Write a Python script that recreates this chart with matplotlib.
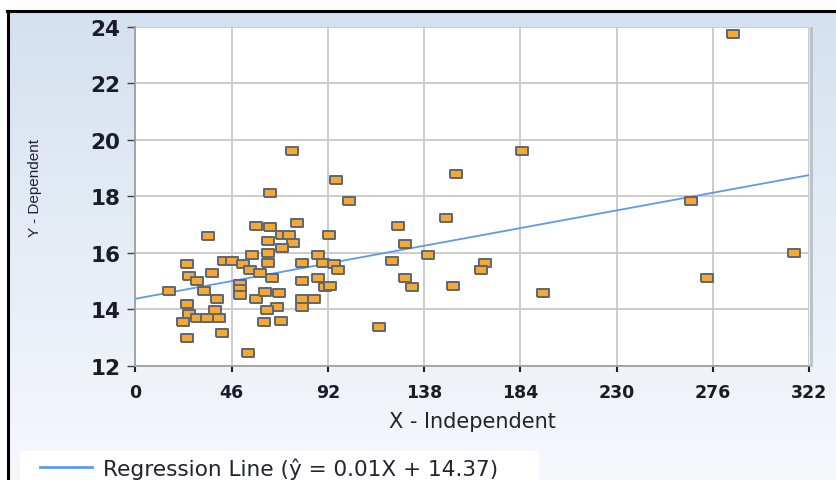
import numpy as np
import matplotlib.pyplot as plt
from matplotlib.colors import LinearSegmentedColormap
from matplotlib.patches import Rectangle
from matplotlib.lines import Line2D

# scatter points
x_vals = [16.2, 22.6, 24.8, 25.8, 29.3, 32.6, 34.5, 36.6, 42.3, 46.0,
          24.8, 25.8, 29.3, 34.1, 38.0, 40.1, 41.2, 24.8, 39.0, 51.3,
          55.6, 54.8, 59.3, 50.0, 50.0, 50.0, 57.4, 53.8, 61.5, 57.5,
          75.0, 96.0, 102.2, 64.3, 77.4, 64.3, 69.9, 73.5, 75.2, 63.5,
          92.5, 69.9, 63.5, 63.5, 79.5, 87.1, 89.5, 95.0, 96.9, 65.4,
          79.5, 87.1, 90.6, 93.0, 61.9, 68.6, 79.5, 85.3, 79.5, 67.5,
          63.0, 69.6, 116.3, 184.6, 153.0, 148.4, 125.6, 128.8, 139.7, 122.5,
          128.8, 132.0, 151.9, 167.0, 165.0, 194.6, 285.4, 265.6, 273.2, 314.8]
y_vals = [14.65, 13.54, 15.60, 15.18, 14.99, 14.65, 16.58, 15.27, 15.71, 15.71,
          14.18, 13.82, 13.69, 13.69, 13.97, 13.69, 13.16, 12.98, 14.35, 15.61,
          15.92, 15.37, 15.27, 14.89, 14.71, 14.51, 14.35, 12.45, 13.54, 16.96,
          19.61, 18.58, 17.82, 18.10, 17.06, 16.90, 16.63, 16.63, 16.35, 16.41,
          16.62, 16.16, 15.98, 15.65, 15.65, 15.92, 15.65, 15.60, 15.38, 15.12,
          15.00, 15.12, 14.79, 14.83, 14.61, 14.56, 14.35, 14.35, 14.08, 14.08,
          13.97, 13.59, 13.37, 19.61, 18.80, 17.23, 16.96, 16.30, 15.92, 15.71,
          15.10, 14.77, 14.83, 15.65, 15.38, 14.56, 23.74, 17.83, 15.10, 15.98]

x_ticks = [0, 46, 92, 138, 184, 230, 276, 322]
y_ticks = [12, 14, 16, 18, 20, 22, 24]

reg_intercept = 14.37
reg_slope = 0.0136
legend_label = 'Regression Line (ŷ = 0.01X + 14.37)'

W, H = 836, 481
fig = plt.figure(figsize=(W / 100, H / 100), dpi=100)
fig.patch.set_facecolor('white')

# light blue gradient panel behind the chart
bg = fig.add_axes([8 / W, 0, 1 - 8 / W, 1 - 13 / H], zorder=-10)
grad = np.linspace(0, 1, 256).reshape(-1, 1)
cmap = LinearSegmentedColormap.from_list('bg', ['#d5e1f0', '#f6f8fc'])
bg.imshow(grad, aspect='auto', cmap=cmap, extent=[0, 1, 0, 1], origin='upper')
bg.axis('off')

# black frame on left and top
fig.add_artist(Line2D([7.5 / W, 7.5 / W], [0, 1 - 12 / H], transform=fig.transFigure,
                      color='black', lw=2.2))
fig.add_artist(Line2D([6.5 / W, 1], [1 - 12 / H, 1 - 12 / H], transform=fig.transFigure,
                      color='black', lw=2.2))

# faint shadow right of the plot area
fig.add_artist(Line2D([811 / W, 811 / W], [1 - 366 / H, 1 - 29 / H], transform=fig.transFigure,
                      color='#b8c0cc', lw=2, zorder=-5))

ax = fig.add_axes([135.4 / W, 1 - 366.7 / H, (809.3 - 135.4) / W, (366.7 - 27.7) / H])
ax.set_facecolor('white')

# regression line
xs = np.array([x_ticks[0], x_ticks[-1]])
line, = ax.plot(xs, reg_intercept + reg_slope * xs, color='#5b9bef', lw=1.3, zorder=3)

# rectangular markers
rect = [(-1, -0.63), (1, -0.63), (1, 0.63), (-1, 0.63), (-1, -0.63)]
ax.plot(x_vals, y_vals, linestyle='none', marker=rect, ms=8.8, mfc='#f7a831',
        mec='#5b6677', mew=1.4, zorder=4)

ax.set_xlim(x_ticks[0], x_ticks[-1])
ax.set_ylim(y_ticks[0], y_ticks[-1])
ax.set_xticks(x_ticks)
ax.set_yticks(y_ticks)
ax.grid(True, color='#c8c8c8', lw=1.3, zorder=0)
ax.set_axisbelow(True)

for s in ['top', 'right']:
    ax.spines[s].set_visible(False)
for s in ['left', 'bottom']:
    ax.spines[s].set_color('#a0a0a0')
    ax.spines[s].set_linewidth(1.3)

ax.tick_params(axis='y', direction='out', length=5.8, width=1, color='#404040', pad=5,
               labelsize=15.5, labelcolor='#1c1c28')
ax.tick_params(axis='x', direction='out', length=4.5, width=1.5, color='#202020', pad=8,
               labelsize=12.5, labelcolor='#1c1c28')
for lab in ax.get_xticklabels() + ax.get_yticklabels():
    lab.set_fontweight('bold')

# axis titles
fig.text(472 / W, 1 - 422 / H, 'X - Independent', ha='center', va='center',
         fontsize=15, color='#222233', family='DejaVu Sans')
fig.text(35 / W, 1 - 188 / H, 'Y - Dependent', ha='center', va='center', rotation=90,
         fontsize=11, color='#222233', family=['Liberation Sans Narrow', 'Liberation Sans'])

# legend box at the bottom
fig.add_artist(Rectangle((20 / W, 0), (539 - 20) / W, 29 / H, transform=fig.transFigure,
                         facecolor='white', edgecolor='none', zorder=1))
fig.add_artist(Line2D([40 / W, 92 / W], [1 - 468 / H, 1 - 468 / H], transform=fig.transFigure,
                      color=line.get_color(), lw=2, zorder=2))
fig.text(103 / W, 1 - 469 / H, legend_label, ha='left', va='center', fontsize=15.6,
         color='#222233', family='DejaVu Sans', zorder=3)

fig.savefig('out.png', dpi=100)
